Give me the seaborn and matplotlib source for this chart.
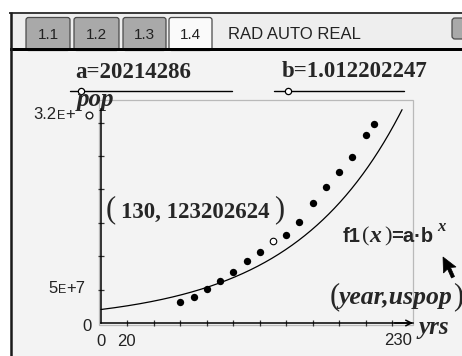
import matplotlib
matplotlib.use("Agg")
import matplotlib.pyplot as plt
from matplotlib.patches import Rectangle, FancyBboxPatch, Polygon
import numpy as np
import pandas as pd
import seaborn as sns

# US census population, x = years after 1800
years = [60, 70, 80, 90, 100, 110, 120, 130, 140, 150, 160, 170, 180, 190, 200, 206]
uspop = [31443321, 38558371, 50189209, 62979766, 76212168, 92228496, 106021537,
         123202624, 132164569, 151325798, 179323175, 203211926, 226545805,
         248709873, 281421906, 298444215]
selected_year = 130

# exponential model f1(x) = a * b^x
a = 20214286
b = 1.012202247

x_ticks = [20, 40, 60, 80, 100, 120, 140, 160, 180, 200, 220]
y_ticks = [5e7, 1e8, 1.5e8, 2e8, 2.5e8, 3e8]
y_max = 3.2e8
tab_labels = ["1.1", "1.2", "1.3", "1.4"]
status_text = "RAD AUTO REAL"

W, H = 462, 356
sns.set_theme(style="white")
plt.rcParams["font.family"] = ["Liberation Sans", "DejaVu Sans"]

fig = plt.figure(figsize=(W / 100, H / 100), dpi=100)
fig.patch.set_facecolor("white")

# screen layer in pixel units (y grows downward)
bg = fig.add_axes([0, 0, 1, 1], zorder=0)
bg.set_xlim(0, W)
bg.set_ylim(H, 0)
bg.axis("off")

SCREEN = "#f3f3f3"
bg.add_patch(Rectangle((10, 12), W, H, facecolor=SCREEN, edgecolor="none"))
bg.add_patch(Rectangle((10, 12), W, 36, facecolor="#eeeeee", edgecolor="none"))

# tabs
tab_x = [(25, 71), (73, 120), (122, 167), (168, 213)]
for (x0, x1), lab in zip(tab_x, tab_labels):
    active = lab == "1.4"
    bg.add_patch(FancyBboxPatch((x0 + 1, 17.5), x1 - x0 - 2, 33,
                                boxstyle="round,pad=0,rounding_size=2.5",
                                facecolor="#fafafa" if active else "#a9a9a9",
                                edgecolor="#4a4a4a", lw=0.9, zorder=1))
    bg.text((x0 + x1) / 2, 39, lab, ha="center", va="baseline",
            fontsize=11, color="#222222", zorder=2)
bg.add_patch(FancyBboxPatch((452, 18), 20, 21,
                            boxstyle="round,pad=0,rounding_size=3",
                            facecolor="#a9a9a9", edgecolor="#4a4a4a", lw=0.9))
bg.text(228, 39, status_text, ha="left", va="baseline", fontsize=12, color="#222222")

# frame lines
bg.add_patch(Rectangle((10, 47.5), W, 3.5, facecolor="black", edgecolor="none",
                       zorder=3))
bg.plot([9, W], [12.5, 12.5], color="#2a2a2a", lw=1.3, solid_capstyle="butt")
bg.plot([10.5, 10.5], [12, H], color="#1a1a1a", lw=1.8, solid_capstyle="butt",
        zorder=4)

# graph window border
bg.add_patch(Rectangle((99, 100), 314, 225, facecolor="none",
                       edgecolor="#b9b9b9", lw=0.9))

SB = dict(family="Liberation Serif", weight="bold")
SBI = dict(family="Liberation Serif", weight="bold", style="italic")
SR = dict(family="Liberation Serif", weight="normal")

# sliders
bg.text(75, 78, f"a={a}", ha="left", va="baseline", fontsize=16.5, **SB)
bg.plot([70, 232], [91, 91], color="black", lw=1.0)
bg.plot([81], [91], marker="o", ms=4.5, mfc="white", mec="black", mew=0.9)
bg.text(282, 77, f"b={b}", ha="left", va="baseline", fontsize=16.5, **SB)
bg.plot([274, 404], [91, 91], color="black", lw=1.0)
bg.plot([288], [91], marker="o", ms=4.5, mfc="white", mec="black", mew=0.9)

# axis labels
bg.text(77, 106, "pop", ha="left", va="baseline", fontsize=18, **SBI)
bg.text(418, 334, "yrs", ha="left", va="baseline", fontsize=18, **SBI)

# window values
bg.text(33, 119, "3.2", ha="left", va="baseline", fontsize=12, color="#222222")
bg.text(57, 119, "E", ha="left", va="baseline", fontsize=9, color="#222222")
bg.text(65, 119, "+", ha="left", va="baseline", fontsize=12, color="#222222")
bg.plot([88.5], [114.5], marker="o", ms=4.8, mfc="white", mec="#222222", mew=1.0)
bg.text(48, 293, "5", ha="left", va="baseline", fontsize=12, color="#222222")
bg.text(58, 293, "E", ha="left", va="baseline", fontsize=9, color="#222222")
bg.text(66, 293, "+7", ha="left", va="baseline", fontsize=12, color="#222222")
bg.text(92, 331, "0", ha="right", va="baseline", fontsize=12, color="#222222")
bg.text(96, 346, "0", ha="left", va="baseline", fontsize=12, color="#222222")
bg.text(117, 346, "20", ha="left", va="baseline", fontsize=12, color="#222222")
bg.text(412, 345, "230", ha="right", va="baseline", fontsize=12, color="#222222")

# selected point label
sel_pop = uspop[years.index(selected_year)]
bg.text(106, 217, "(", ha="left", va="baseline", fontsize=22, **SR)
bg.text(121, 218, f"{selected_year}, {sel_pop}", ha="left", va="baseline",
        fontsize=16.5, **SB)
bg.text(284, 217, ")", ha="right", va="baseline", fontsize=22, **SR)

# function label
bg.text(343, 242, "f1", ha="left", va="baseline", fontsize=14.5,
        family="Liberation Sans", weight="bold")
bg.text(362, 241, "(", ha="left", va="baseline", fontsize=16, **SR)
bg.text(369, 242, "x", ha="left", va="baseline", fontsize=17, **SBI)
bg.text(384, 241, ")", ha="left", va="baseline", fontsize=16, **SR)
bg.text(391, 242, "=a\u00b7b", ha="left", va="baseline", fontsize=14.5,
        family="Liberation Sans", weight="bold")
bg.text(437, 231, "x", ha="left", va="baseline", fontsize=12, **SBI)

# plot label
bg.text(330, 304, "(", ha="left", va="baseline", fontsize=22, **SR)
bg.text(339, 304, "year,uspop", ha="left", va="baseline", fontsize=18.5, **SBI)
bg.text(463, 304, ")", ha="right", va="baseline", fontsize=22, **SR)

# pointer
bg.add_patch(Polygon([(443, 257), (443.5, 273), (447.5, 269), (451.5, 278),
                      (454.5, 276.5), (450.5, 267.5), (456, 267)],
                     closed=True, facecolor="black", edgecolor="black", lw=0.5))

# graph
px_x = 1.323        # pixels per year
px_y = 0.668e-6     # pixels per person
ax = fig.add_axes([99 / W, (H - 325) / H, 314 / W, 225 / H], zorder=1)
ax.set_facecolor("none")
ax.set_xlim(-2 / px_x, 312 / px_x)
ax.set_ylim(-2 / px_y, 223 / px_y)

df = pd.DataFrame({"year": years, "uspop": uspop})
xs = np.linspace(0, 312 / px_x, 600)
fx = a * b ** xs
keep = fx <= y_max
sns.lineplot(x=xs[keep], y=fx[keep], color="black", lw=0.9, ax=ax)

sns.scatterplot(data=df[df["year"] != selected_year], x="year", y="uspop",
                color="black", s=28, linewidth=0, ax=ax)
sns.scatterplot(data=df[df["year"] == selected_year], x="year", y="uspop",
                color="white", edgecolor="black", s=22, linewidth=0.8, ax=ax)

for side in ["top", "right"]:
    ax.spines[side].set_visible(False)
ax.spines["left"].set_position(("data", 0))
ax.spines["bottom"].set_position(("data", 0))
ax.spines["left"].set_bounds(0, y_max)
ax.spines["bottom"].set_bounds(0, 312 / px_x)
for side in ["left", "bottom"]:
    ax.spines[side].set_color("black")
    ax.spines[side].set_linewidth(1.1)
ax.set_xticks(x_ticks)
ax.set_yticks(y_ticks)
ax.set_xticklabels([])
ax.set_yticklabels([])
ax.tick_params(direction="inout", length=4, width=0.9, color="#333333",
               bottom=True, left=True)
ax.set_xlabel("")
ax.set_ylabel("")
ax.annotate("", xy=(312 / px_x, 0), xytext=(222, 0),
            arrowprops=dict(arrowstyle="->", color="black", lw=1.1,
                            mutation_scale=10, shrinkA=0, shrinkB=0),
            annotation_clip=False)

fig.savefig("out.png", dpi=100)
